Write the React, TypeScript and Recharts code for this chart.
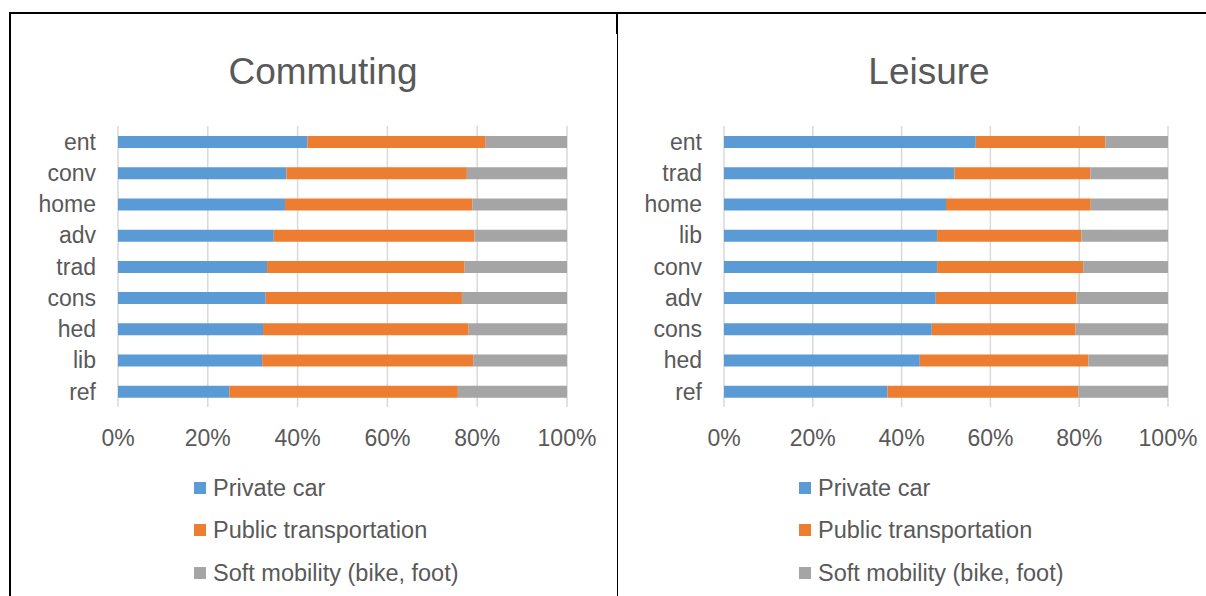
import React from 'react';
import { BarChart, Bar, XAxis, YAxis, CartesianGrid } from 'recharts';

const seriesNames = ['Private car', 'Public transportation', 'Soft mobility (bike, foot)'];
const seriesKeys = ['car', 'pub', 'soft'];
const seriesColors = ['#5B9BD5', '#ED7D31', '#A5A5A5'];

const xTicks = [0, 20, 40, 60, 80, 100];

const commutingCategories = ['ent', 'conv', 'home', 'adv', 'trad', 'cons', 'hed', 'lib', 'ref'];
const commutingCar = [42.2, 37.5, 37.2, 34.7, 33.2, 32.9, 32.3, 32.1, 24.8];
const commutingPublic = [39.7, 40.2, 41.7, 44.7, 44.0, 43.7, 45.8, 47.0, 50.9];
const commutingSoft = [18.1, 22.3, 21.1, 20.6, 22.8, 23.4, 21.9, 20.9, 24.3];

const leisureCategories = ['ent', 'trad', 'home', 'lib', 'conv', 'adv', 'cons', 'hed', 'ref'];
const leisureCar = [56.7, 51.9, 50.0, 48.0, 48.0, 47.7, 46.8, 44.1, 36.8];
const leisurePublic = [29.2, 30.6, 32.6, 32.5, 32.9, 31.7, 32.4, 38.0, 43.0];
const leisureSoft = [14.1, 17.5, 17.4, 19.5, 19.1, 20.6, 20.8, 17.9, 20.2];

const TEXT = '#595959';
const FONT = '"Liberation Sans", Arial, sans-serif';

type PanelProps = {
  title: string;
  categories: string[];
  car: number[];
  pub: number[];
  soft: number[];
  chartLeft: number;
  plotRight: number;
  titleX: number;
  legendX: number;
};

function Panel({ title, categories, car, pub, soft, chartLeft, plotRight, titleX, legendX }: PanelProps) {
  const data = categories.map((c, i) => ({ name: c, car: car[i], pub: pub[i], soft: soft[i] }));
  const yAxisWidth = 118;
  const rightMargin = 40;
  const width = plotRight - chartLeft + rightMargin;
  return (
    <>
      <div
        style={{
          position: 'absolute',
          left: titleX - 200,
          width: 400,
          top: 52,
          textAlign: 'center',
          fontSize: 37,
          lineHeight: '40px',
          color: TEXT,
        }}
      >
        {title}
      </div>
      <div style={{ position: 'absolute', left: chartLeft, top: 0 }}>
        <BarChart
          width={width}
          height={457}
          data={data}
          layout="vertical"
          margin={{ top: 126, right: rightMargin, left: 0, bottom: 0 }}
          barCategoryGap={0}
        >
          <CartesianGrid horizontal={false} stroke="#d9d9d9" strokeWidth={1.5} />
          <XAxis
            type="number"
            domain={[0, 100]}
            ticks={xTicks}
            tickFormatter={(v: number) => `${v}%`}
            axisLine={false}
            tickLine={false}
            tickMargin={17}
            height={50}
            interval={0}
            tick={{ fill: TEXT, fontSize: 23 }}
          />
          <YAxis
            type="category"
            dataKey="name"
            width={yAxisWidth}
            axisLine={false}
            tickLine={false}
            tickMargin={16}
            interval={0}
            tick={{ fill: TEXT, fontSize: 23 }}
          />
          {seriesKeys.map((k, i) => (
            <Bar
              key={k}
              dataKey={k}
              name={seriesNames[i]}
              stackId="a"
              fill={seriesColors[i]}
              barSize={12}
              isAnimationActive={false}
            />
          ))}
        </BarChart>
      </div>
      <div style={{ position: 'absolute', left: legendX, top: 0 }}>
        {seriesNames.map((n, i) => (
          <div
            key={n}
            style={{
              position: 'absolute',
              top: [488, 530, 573][i] - 14,
              left: 0,
              height: 28,
              display: 'flex',
              alignItems: 'center',
              whiteSpace: 'nowrap',
            }}
          >
            <div style={{ width: 12, height: 12, background: seriesColors[i], marginRight: 7 }} />
            <span style={{ fontSize: 23.5, color: TEXT, lineHeight: '28px' }}>{n}</span>
          </div>
        ))}
      </div>
    </>
  );
}

export default function App() {
  return (
    <div
      style={{
        position: 'absolute',
        left: 0,
        top: 0,
        width: 1206,
        height: 596,
        background: '#fff',
        overflow: 'hidden',
        fontFamily: FONT,
      }}
    >
      {/* table-like borders */}
      <div style={{ position: 'absolute', left: 9, top: 12, width: 1197, height: 2, background: '#000' }} />
      <div style={{ position: 'absolute', left: 9, top: 12, width: 2, height: 584, background: '#000' }} />
      <div style={{ position: 'absolute', left: 616, top: 12, width: 2, height: 22, background: '#000' }} />
      <div style={{ position: 'absolute', left: 617, top: 12, width: 1, height: 584, background: '#000' }} />
      <Panel
        title="Commuting"
        categories={commutingCategories}
        car={commutingCar}
        pub={commutingPublic}
        soft={commutingSoft}
        chartLeft={0}
        plotRight={567}
        titleX={323}
        legendX={194}
      />
      <Panel
        title="Leisure"
        categories={leisureCategories}
        car={leisureCar}
        pub={leisurePublic}
        soft={leisureSoft}
        chartLeft={606}
        plotRight={1168}
        titleX={929}
        legendX={799}
      />
    </div>
  );
}
